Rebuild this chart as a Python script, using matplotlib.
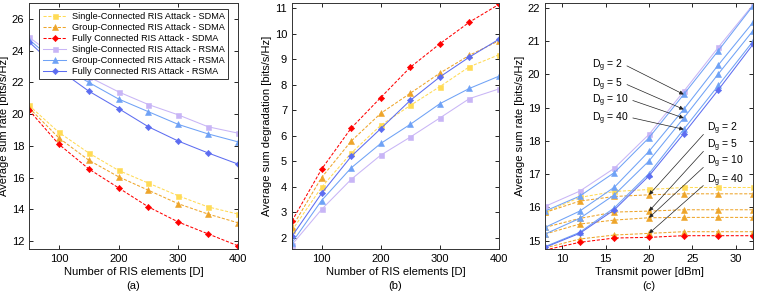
import numpy as np
import matplotlib
matplotlib.use("Agg")
import matplotlib.pyplot as plt

plt.rcParams.update({
    "font.family": ["Liberation Sans", "DejaVu Sans"],
    "font.size": 8,
    "mathtext.fontset": "custom",
    "mathtext.rm": "Liberation Sans",
    "mathtext.it": "Liberation Sans:italic",
    "axes.linewidth": 0.7,
    "axes.edgecolor": "#333333",
    "xtick.direction": "in",
    "ytick.direction": "in",
    "xtick.major.size": 3,
    "ytick.major.size": 3,
    "xtick.major.width": 0.6,
    "ytick.major.width": 0.6,
    "xtick.top": True,
    "ytick.right": True,
})

COLORS = {
    "sc_sdma": "#FFDB55",
    "gc_sdma": "#EEA52A",
    "fc_sdma": "#FF0000",
    "sc_rsma": "#C8B5F6",
    "gc_rsma": "#6FA2F6",
    "fc_rsma": "#5D6DF1",
}

# ---- panel (a) / (b): vs number of RIS elements
D = [50, 100, 150, 200, 250, 300, 350, 400]

rate_sc_sdma = [20.55, 18.85, 17.55, 16.45, 15.65, 14.85, 14.15, 13.7]
rate_gc_sdma = [20.4, 18.5, 17.1, 16.05, 15.2, 14.35, 13.7, 13.15]
rate_fc_sdma = [20.25, 18.1, 16.55, 15.35, 14.15, 13.2, 12.45, 11.7]
rate_sc_rsma = [24.85, 23.45, 22.35, 21.4, 20.6, 19.95, 19.2, 18.8]
rate_gc_rsma = [24.7, 23.1, 22.0, 20.95, 20.15, 19.35, 18.75, 18.25]
rate_fc_rsma = [24.55, 22.8, 21.45, 20.35, 19.2, 18.3, 17.55, 16.85]

deg_sc_sdma = [2.28, 3.97, 5.31, 6.4, 7.18, 7.92, 8.7, 9.17]
deg_gc_sdma = [2.4, 4.35, 5.78, 6.87, 7.66, 8.45, 9.15, 9.72]
deg_fc_sdma = [2.65, 4.68, 6.29, 7.49, 8.68, 9.6, 10.45, 11.15]
deg_sc_rsma = [1.72, 3.1, 4.28, 5.23, 5.94, 6.69, 7.45, 7.83]
deg_gc_rsma = [1.8, 3.45, 4.73, 5.69, 6.44, 7.25, 7.85, 8.33]
deg_fc_rsma = [2.05, 3.73, 5.18, 6.27, 7.38, 8.3, 9.08, 9.78]

# ---- panel (c): vs transmit power
P = [8, 12, 16, 20, 24, 28, 32]
Dg_labels = [2, 5, 10, 40]

pw_sc_sdma = [15.85, 16.3, 16.48, 16.54, 16.6, 16.6, 16.6]
pw_gc_sdma = [
    [15.85, 16.19, 16.33, 16.38, 16.41, 16.41, 16.41],
    [15.4, 15.67, 15.86, 15.89, 15.93, 15.93, 15.93],
    [15.2, 15.5, 15.62, 15.69, 15.7, 15.7, 15.7],
    [14.78, 15.05, 15.17, 15.22, 15.27, 15.27, 15.27],
]
pw_fc_sdma = [14.72, 14.95, 15.08, 15.1, 15.15, 15.15, 15.15]

pw_sc_rsma = [16.03, 16.49, 17.18, 18.2, 19.49, 20.82, 22.1]
pw_gc_rsma = [
    [15.89, 16.34, 17.05, 18.1, 19.4, 20.72, 22.07],
    [15.4, 15.89, 16.61, 17.69, 18.95, 20.29, 21.57],
    [15.2, 15.67, 16.38, 17.4, 18.69, 20.02, 21.32],
    [14.82, 15.25, 15.99, 17.02, 18.35, 19.67, 21.0],
]
pw_fc_rsma = [14.8, 15.22, 15.93, 16.95, 18.22, 19.54, 20.91]

LABELS = [
    "Single-Connected RIS Attack - SDMA",
    "Group-Connected RIS Attack - SDMA",
    "Fully Connected RIS Attack - SDMA",
    "Single-Connected RIS Attack - RSMA",
    "Group-Connected RIS Attack - RSMA",
    "Fully Connected RIS Attack - RSMA",
]
KEYS = ["sc_sdma", "gc_sdma", "fc_sdma", "sc_rsma", "gc_rsma", "fc_rsma"]
MARKERS = {"sc": "s", "gc": "^", "fc": "D"}
MSIZE = {"s": 3.6, "^": 4.0, "D": 3.2}


def style(key):
    m = MARKERS[key[:2]]
    ls = (0, (3, 1.6)) if key.endswith("sdma") else "-"
    return dict(color=COLORS[key], marker=m, ms=MSIZE[m], lw=0.75, ls=ls,
                markeredgewidth=0.4, markeredgecolor=COLORS[key])


fig = plt.figure(figsize=(7.57, 2.92), dpi=100)
ax_a = fig.add_axes([0.0383, 0.1473, 0.2761, 0.8424])
ax_b = fig.add_axes([0.3857, 0.1473, 0.2735, 0.8424])
ax_c = fig.add_axes([0.7200, 0.1473, 0.2748, 0.8424])

# (a)
rates = [rate_sc_sdma, rate_gc_sdma, rate_fc_sdma, rate_sc_rsma, rate_gc_rsma, rate_fc_rsma]
for k, lab, y in zip(KEYS, LABELS, rates):
    ax_a.plot(D, y, label=lab, **style(k))
ax_a.set_xlim(50, 400)
ax_a.set_ylim(11.5, 27)
ax_a.set_xticks([100, 200, 300, 400])
ax_a.set_yticks(np.arange(12, 27, 2))
ax_a.set_xlabel("Number of RIS elements [D]", labelpad=2)
ax_a.set_ylabel("Average sum rate [bits/s/Hz]", labelpad=2)
ax_a.text(0.5, -0.152, "(a)", transform=ax_a.transAxes, ha="center", va="center")
leg = ax_a.legend(loc="upper right", bbox_to_anchor=(0.975, 0.995), fontsize=6.6,
                  handlelength=2.6, labelspacing=0.22, borderpad=0.35,
                  handletextpad=0.6, fancybox=False, framealpha=1)
leg.get_frame().set_edgecolor("#333333")
leg.get_frame().set_linewidth(0.7)

# (b)
degs = [deg_sc_sdma, deg_gc_sdma, deg_fc_sdma, deg_sc_rsma, deg_gc_rsma, deg_fc_rsma]
for k, y in zip(KEYS, degs):
    ax_b.plot(D, y, **style(k))
ax_b.set_xlim(50, 400)
ax_b.set_ylim(1.55, 11.2)
ax_b.set_xticks([100, 200, 300, 400])
ax_b.set_yticks(np.arange(2, 12, 1))
ax_b.set_xlabel("Number of RIS elements [D]", labelpad=2)
ax_b.set_ylabel("Average sum degradation [bits/s/Hz]", labelpad=2)
ax_b.text(0.5, -0.152, "(b)", transform=ax_b.transAxes, ha="center", va="center")

# (c)
ax_c.plot(P, pw_sc_sdma, **style("sc_sdma"))
for y in pw_gc_sdma:
    ax_c.plot(P, y, **style("gc_sdma"))
ax_c.plot(P, pw_fc_sdma, **style("fc_sdma"))
ax_c.plot(P, pw_sc_rsma, **style("sc_rsma"))
for y in pw_gc_rsma:
    ax_c.plot(P, y, **style("gc_rsma"))
ax_c.plot(P, pw_fc_rsma, **style("fc_rsma"))
ax_c.set_xlim(8, 32)
ax_c.set_ylim(14.75, 22.15)
ax_c.set_xticks([10, 15, 20, 25, 30])
ax_c.set_yticks(np.arange(15, 23, 1))
ax_c.set_xlabel("Transmit power [dBm]", labelpad=2)
ax_c.set_ylabel("Average sum rate [bits/s/Hz]", labelpad=2)
ax_c.text(0.5, -0.152, "(c)", transform=ax_c.transAxes, ha="center", va="center")

arrow = dict(arrowstyle="-|>", color="#222222", lw=0.5, mutation_scale=6,
             shrinkA=1, shrinkB=0)
top_text_y = [20.27, 19.7, 19.21, 18.67]
for dg, ty, y in zip(Dg_labels, top_text_y, pw_gc_rsma):
    ax_c.annotate(r"D$_\mathrm{g}$ = %d" % dg, xy=(24, y[4]), xytext=(13.4, ty),
                  ha="left", va="center", fontsize=7.5,
                  arrowprops=dict(arrow, relpos=(1, 0.6)))
bot_text_y = [18.37, 17.86, 17.36, 16.81]
for dg, ty, y in zip(Dg_labels, bot_text_y, pw_gc_sdma):
    ax_c.annotate(r"D$_\mathrm{g}$ = %d" % dg, xy=(20, y[3]), xytext=(26.7, ty),
                  ha="left", va="center", fontsize=7.5,
                  arrowprops=dict(arrow, relpos=(0, 0.4)))

fig.savefig("out.png", dpi=100)
